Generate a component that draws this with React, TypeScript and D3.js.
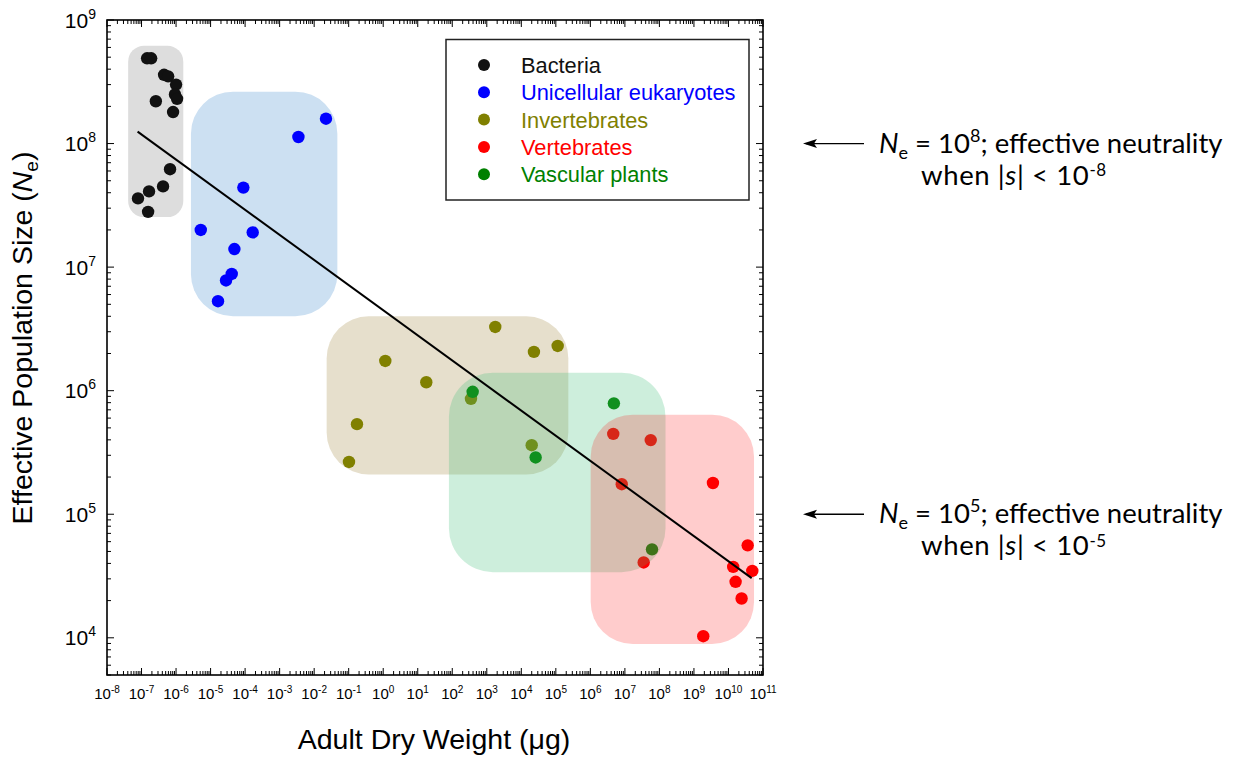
import React from "react";
import * as d3 from "d3";

// ---------- data ----------
const groups = ["Bacteria", "Unicellular eukaryotes", "Invertebrates", "Vertebrates", "Vascular plants"];
const groupColors = ["#111111", "#0000ff", "#808000", "#ff0000", "#008000"];

const bacteriaW = [1.45e-7, 1.9e-7, 4.5e-7, 5.9e-7, 1.0e-6, 9.3e-7, 1.07e-6, 2.6e-7, 8.2e-7, 6.7e-7, 4.2e-7, 1.65e-7, 7.9e-8, 1.55e-7];
const bacteriaNe = [4.9e8, 4.9e8, 3.6e8, 3.5e8, 3.0e8, 2.5e8, 2.3e8, 2.2e8, 1.8e8, 6.2e7, 4.5e7, 4.1e7, 3.6e7, 2.8e7];

const unicellW = [2.2e-2, 3.5e-3, 8.9e-5, 5.2e-6, 1.66e-4, 4.9e-5, 4.1e-5, 2.8e-5, 1.64e-5];
const unicellNe = [1.59e8, 1.13e8, 4.4e7, 2.0e7, 1.91e7, 1.4e7, 8.8e6, 7.8e6, 5.3e6];

const invertW = [1.76e3, 2.32e4, 1.13e5, 1.15, 17.7, 348, 0.174, 0.102, 2.0e4];
const invertNe = [3.28e6, 2.06e6, 2.3e6, 1.74e6, 1.17e6, 8.6e5, 5.36e5, 2.65e5, 3.62e5];

const plantW = [390, 2.6e4, 4.8e6, 6.1e7];
const plantNe = [9.8e5, 2.88e5, 7.9e5, 5.2e4];

const vertW = [4.6e6, 5.6e7, 8.1e6, 3.55e9, 3.6e10, 1.37e10, 4.9e10, 3.5e7, 1.61e10, 2.4e10, 1.86e9];
const vertNe = [4.47e5, 3.98e5, 1.75e5, 1.79e5, 5.6e4, 3.75e4, 3.48e4, 4.07e4, 2.84e4, 2.08e4, 1.03e4];

// regression line endpoints
const fitW = [7.7e-8, 4.7e10];
const fitNe = [1.25e8, 3.04e4];

// group envelopes: [wMin, wMax, neMin, neMax]
const boxBacteria = [4.1e-8, 1.62e-6, 2.54e7, 6.2e8];
const boxUnicell = [2.7e-6, 4.7e-2, 4.0e6, 2.63e8];
const boxInvert = [2.3e-2, 2.3e5, 2.1e5, 4.0e6];
const boxPlant = [80, 1.5e8, 3.4e4, 1.4e6];
const boxVert = [1.02e6, 5.5e10, 8.9e3, 6.4e5];

// tick labels (exponents)
const xTickExps = [-8, -7, -6, -5, -4, -3, -2, -1, 0, 1, 2, 3, 4, 5, 6, 7, 8, 9, 10, 11];
const yTickExps = [4, 5, 6, 7, 8, 9];

// annotations
const annotNe = [1e8, 1e5];
const annotNeExp = ["8", "5"];
const annotSExp = ["-8", "-5"];

// ---------- layout ----------
const W = 1236;
const H = 760;
const L = 107, R = 763, T = 20, B = 675;
const FONT = "'Liberation Sans', Arial, sans-serif";
const AFONT = "Lato, 'Open Sans', sans-serif";

const x = d3.scaleLog().domain([1e-8, 1e11]).range([L, R]);
const y = d3.scaleLog().domain([5000, 1e9]).range([B, T]);

function minorTicks(lo: number, hi: number, dom: [number, number]) {
  const out: { v: number; major: boolean }[] = [];
  for (let e = lo; e <= hi; e++) {
    for (let k = 1; k <= 9; k++) {
      const v = k * Math.pow(10, e);
      if (v >= dom[0] * 0.9999 && v <= dom[1] * 1.0001) out.push({ v, major: k === 1 });
    }
  }
  return out;
}

const xTicks = minorTicks(-8, 11, [1e-8, 1e11]);
const yTicks = minorTicks(3, 9, [5000, 1e9]);

function Box({ b, fill, opacity, r }: { b: number[]; fill: string; opacity: number; r: number }) {
  const x0 = x(b[0]), x1 = x(b[1]), y0 = y(b[3]), y1 = y(b[2]);
  return <rect x={x0} y={y0} width={x1 - x0} height={y1 - y0} rx={r} ry={r} fill={fill} fillOpacity={opacity} />;
}

function Dots({ w, ne, color }: { w: number[]; ne: number[]; color: string }) {
  return (
    <g>
      {w.map((v, i) => (
        <circle key={i} cx={x(v)} cy={y(ne[i])} r={6.2} fill={color} />
      ))}
    </g>
  );
}

export default function App() {
  const line = d3
    .line<number>()
    .x((d, i) => x(fitW[i]))
    .y((d, i) => y(fitNe[i]));
  const MAJ = 7, MIN = 4;
  return (
    <div style={{ position: "absolute", left: 0, top: 0 }}>
      <svg width={W} height={H} style={{ display: "block", background: "#fff" }}>
        {/* boxes under dots */}
        <Box b={boxBacteria} fill="#dddddd" opacity={1} r={16} />
        <Box b={boxUnicell} fill="#cce0f2" opacity={1} r={42} />
        <Box b={boxInvert} fill="#e6dfcc" opacity={1} r={42} />

        <Dots w={bacteriaW} ne={bacteriaNe} color={groupColors[0]} />
        <Dots w={unicellW} ne={unicellNe} color={groupColors[1]} />
        <Dots w={invertW} ne={invertNe} color={groupColors[2]} />
        <Dots w={vertW} ne={vertNe} color={groupColors[3]} />
        <Dots w={plantW} ne={plantNe} color={groupColors[4]} />

        {/* translucent boxes over dots */}
        <Box b={boxPlant} fill="rgb(60,190,120)" opacity={0.26} r={44} />
        <Box b={boxVert} fill="rgb(255,0,0)" opacity={0.2} r={42} />

        <path d={line([0, 1]) || ""} fill="none" stroke="#000" strokeWidth={2} />

        {/* frame */}
        <rect x={L} y={T} width={R - L} height={B - T} fill="none" stroke="#000" strokeWidth={1.6} />

        {/* x ticks */}
        {xTicks.map((t, i) => {
          const px = x(t.v);
          const len = t.major ? MAJ : MIN;
          return (
            <g key={"xt" + i}>
              <line x1={px} x2={px} y1={B} y2={B - len} stroke="#000" strokeWidth={1} />
              <line x1={px} x2={px} y1={T} y2={T + len} stroke="#000" strokeWidth={1} />
            </g>
          );
        })}
        {/* y ticks */}
        {yTicks.map((t, i) => {
          const py = y(t.v);
          const len = t.major ? MAJ : MIN;
          return (
            <g key={"yt" + i}>
              <line x1={L} x2={L + len} y1={py} y2={py} stroke="#000" strokeWidth={1} />
              <line x1={R} x2={R - len} y1={py} y2={py} stroke="#000" strokeWidth={1} />
            </g>
          );
        })}

        {/* x tick labels */}
        {xTickExps.map((e) => (
          <text key={"xl" + e} x={x(Math.pow(10, e))} y={699} textAnchor="middle" fontFamily={FONT} fontSize={15} fill="#000">
            <tspan>10</tspan>
            <tspan fontSize={10} dy={-6.5}>{e}</tspan>
          </text>
        ))}
        {/* y tick labels */}
        {yTickExps.map((e) => (
          <text key={"yl" + e} x={96} y={y(Math.pow(10, e)) + 7.5} textAnchor="end" fontFamily={FONT} fontSize={21} fill="#000">
            <tspan>10</tspan>
            <tspan fontSize={14} dy={-9}>{e}</tspan>
          </text>
        ))}

        {/* axis titles */}
        <text x={434} y={749} textAnchor="middle" fontFamily={FONT} fontSize={28.5} fill="#000">
          Adult Dry Weight (μg)
        </text>
        <text transform={`translate(32,${338}) rotate(-90)`} textAnchor="middle" fontFamily={FONT} fontSize={28.5} fill="#000">
          <tspan>Effective Population Size (</tspan>
          <tspan fontStyle="italic">N</tspan>
          <tspan fontSize={19} dy={6}>e</tspan>
          <tspan dy={-6}>)</tspan>
        </text>

        {/* legend */}
        <rect x={446} y={39.5} width={303} height={160.5} fill="#fff" stroke="#222" strokeWidth={1.5} />
        {groups.map((g, i) => (
          <g key={g}>
            <circle cx={484} cy={65 + i * 27.3} r={6} fill={groupColors[i]} />
            <text x={521} y={65 + i * 27.3 + 8} fontFamily={FONT} fontSize={21.8} fill={groupColors[i]}>
              {g}
            </text>
          </g>
        ))}

        {/* annotations */}
        {annotNe.map((v, i) => {
          const py = y(v);
          return (
            <g key={"an" + i}>
              <line x1={864} x2={806} y1={py} y2={py} stroke="#000" strokeWidth={1.3} />
              <path d={`M803,${py} L817,${py - 4.5} L814,${py} L817,${py + 4.5} Z`} fill="#000" />
              <text x={879} y={py + 9} fontFamily={AFONT} fontSize={27.5} fill="#000">
                <tspan fontStyle="italic">N</tspan>
                <tspan fontSize={18} dy={6}>e</tspan>
                <tspan dy={-6}>{" = 10"}</tspan>
                <tspan fontSize={18} dy={-11}>{annotNeExp[i]}</tspan>
                <tspan dy={11}>; effective neutrality</tspan>
              </text>
              <text x={921} y={py + 41} fontFamily={AFONT} fontSize={27.5} letterSpacing={0.6} fill="#000">
                <tspan>{"when |"}</tspan>
                <tspan fontStyle="italic">s</tspan>
                <tspan>{"| < 10"}</tspan>
                <tspan fontSize={17} dy={-8.5}>{annotSExp[i]}</tspan>
              </text>
            </g>
          );
        })}
      </svg>
    </div>
  );
}
